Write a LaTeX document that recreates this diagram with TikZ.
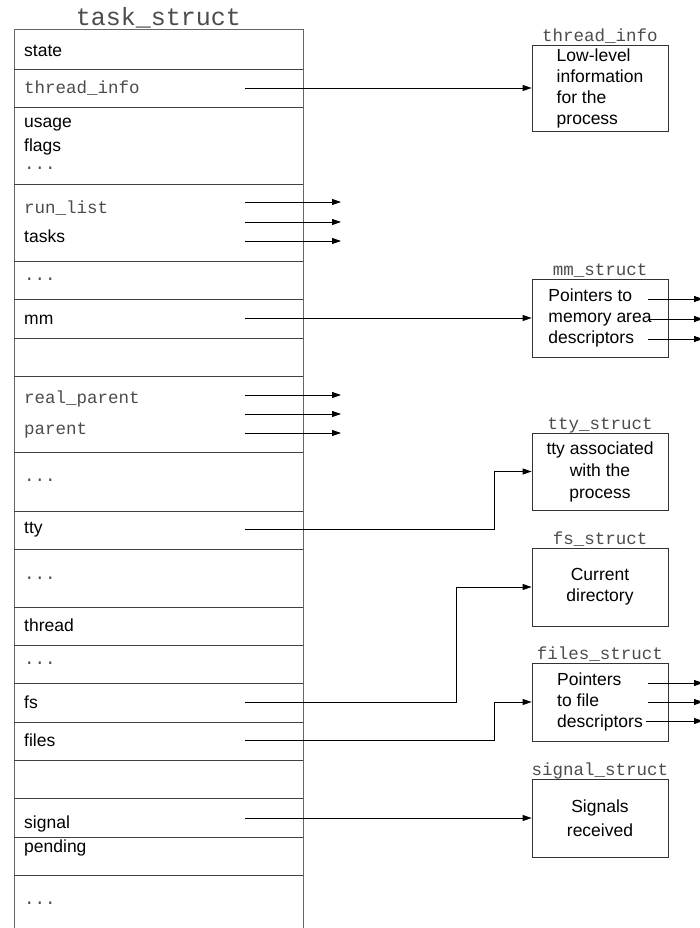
\documentclass[tikz,border=0pt]{standalone}
\usepackage{fontspec}
\setmainfont{Liberation Sans}
\setmonofont{Liberation Mono}
\usetikzlibrary{arrows.meta}
\begin{document}
\begin{tikzpicture}[x=1pt,y=-1pt,
  fld/.style={anchor=base west, inner sep=0pt, font=\fontsize{17.5}{21}\selectfont},
  tfld/.style={anchor=base west, inner sep=0pt, font=\fontsize{17.5}{21}\selectfont\ttfamily, text=black!70},
  sepline/.style={draw=black!75, line width=0.8pt},
  outline/.style={draw=black!60, line width=1pt},
  sbox/.style={draw=black!80, line width=0.8pt, minimum width=136pt, inner sep=0pt, font=\fontsize{17.5}{21}\selectfont},
  ttl/.style={anchor=base, inner sep=0pt, font=\fontsize{17.5}{21}\selectfont\ttfamily, text=black!70},
  arr/.style={-{Triangle[length=9pt,width=6pt]}, line width=0.8pt},
  ]
\useasboundingbox (0,0) rectangle (699,928);

% main struct
\node[anchor=base, inner sep=0pt, font=\fontsize{25}{30}\selectfont\ttfamily, text=black!70] (title) at (158.5,26) {task\_struct};
\draw[outline] (14,940) -- (14,30) -- (303,30) -- (303,940);
\foreach \y in {69,107,184,261,299,338,376,452,511,549,607,645,683,722,760,798,837,875}
  \draw[sepline] (14,\y) -- (303,\y);

\node[fld]  (state)  at (24,57)  {state};
\node[tfld] (tinfo)  at (24,94)  {thread\_info};
\node[fld]  (usage)  at (24,128) {usage};
\node[fld]  (flags)  at (24,152) {flags};
\node[tfld] (d1)     at (24,170) {...};
\node[tfld] (runl)   at (24,213) {run\_list};
\node[fld]  (tasks)  at (24,242) {tasks};
\node[tfld] (d2)     at (24,280) {...};
\node[fld]  (mmf)    at (24,324) {mm};
\node[tfld] (rpar)   at (24,403) {real\_parent};
\node[tfld] (par)    at (24,434) {parent};
\node[tfld] (d3)     at (24,481) {...};
\node[fld]  (ttyf)   at (24,533) {tty};
\node[tfld] (d4)     at (24,579) {...};
\node[fld]  (thr)    at (24,631) {thread};
\node[tfld] (d5)     at (24,664) {...};
\node[fld]  (fsf)    at (24,708) {fs};
\node[fld]  (filesf) at (24,746) {files};
\node[fld]  (sigf)   at (24,828) {signal};
\node[fld]  (pend)   at (24,852) {pending};
\node[tfld] (d6)     at (24,904) {...};

% right boxes
\node[sbox, minimum height=86pt, align=left] (tibox) at (600,88)
  {Low-level\\information\\for the\\process};
\node[ttl] (titi) at ([yshift=3pt]tibox.north) {thread\_info};

\node[sbox, minimum height=78pt, align=left] (mmbox) at (600,318)
  {Pointers to\\memory area\\descriptors};
\node[ttl] (timm) at ([yshift=3pt]mmbox.north) {mm\_struct};

\node[sbox, minimum height=77pt, align=center, font=\fontsize{17.5}{22}\selectfont] (ttybox) at (600,471.5)
  {tty associated\\with the\\process};
\node[ttl] (titty) at ([yshift=3pt]ttybox.north) {tty\_struct};

\node[sbox, minimum height=78pt, align=center] (fsbox) at (600,587)
  {Current\\directory};
\node[ttl] (tifs) at ([yshift=3pt]fsbox.north) {fs\_struct};

\node[sbox, minimum height=78pt, align=left] (filesbox) at (600,702)
  {Pointers\\to file\\descriptors};
\node[ttl] (tifiles) at ([yshift=3pt]filesbox.north) {files\_struct};

\node[sbox, minimum height=78pt, align=center, font=\fontsize{17.5}{24}\selectfont] (sigbox) at (600,818)
  {Signals\\received};
\node[ttl] (tisig) at ([yshift=3pt]sigbox.north) {signal\_struct};

% connector start points
\coordinate (s-ti) at (245,88);
\coordinate (s-mm) at (245,318);
\coordinate (s-tty) at (245,529);
\coordinate (s-fs) at (245,702);
\coordinate (s-files) at (245,740);
\coordinate (s-sig) at (245,818);
\coordinate (b-tty) at (494,529);
\coordinate (b-fs) at (456,702);
\coordinate (b-files) at (494,740);

\draw[arr] (s-ti) -- (s-ti -| tibox.west);
\draw[arr] (s-mm) -- (s-mm -| mmbox.west);
\draw[arr] (s-tty) -- (b-tty) |- (ttybox.west);
\draw[arr] (s-fs) -- (b-fs) |- (fsbox.west);
\draw[arr] (s-files) -- (b-files) |- (filesbox.west);
\draw[arr] (s-sig) -- (s-sig -| sigbox.west);

% dangling pointers
\foreach \y [count=\i] in {202,222,241,395,414,433}{
  \coordinate (pa\i) at (245,\y);
  \coordinate (pb\i) at (341,\y);
  \draw[arr] (pa\i) -- (pb\i);
}
\foreach \y/\xs [count=\i] in {299/648,319/648,339/648,683/648,702/648,721/646}{
  \coordinate (qa\i) at (\xs,\y);
  \coordinate (qb\i) at (703,\y);
  \draw[arr] (qa\i) -- (qb\i);
}
\end{tikzpicture}
\end{document}
